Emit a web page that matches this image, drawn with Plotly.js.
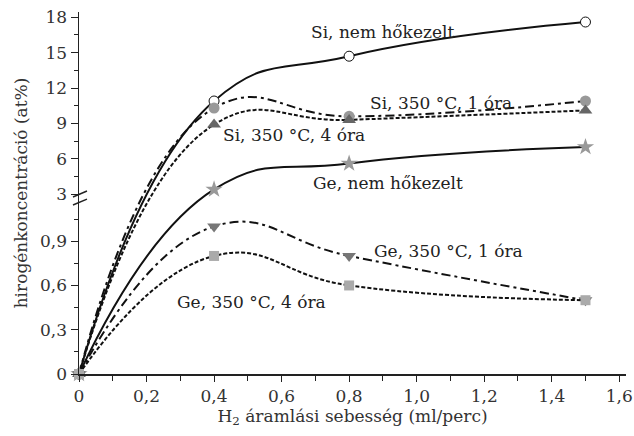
<!DOCTYPE html>
<html>
<head>
<meta charset="utf-8">
<script src="https://cdn.plot.ly/plotly-3.0.1.min.js"></script>
<style>html,body{margin:0;padding:0;background:#fff;}#chart{width:634px;height:436px;}</style>
</head>
<body>
<div id="chart"></div>
<script>
// ---- data ----
var flowRate = [0, 0.4, 0.8, 1.5];            // H2 áramlási sebesség (ml/perc)
var siNem    = [0, 10.9, 14.7, 17.6];         // Si, nem hőkezelt
var si1      = [0, 10.3, 9.6, 10.9];          // Si, 350 °C, 1 óra
var si4      = [0, 8.9, 9.3, 10.1];           // Si, 350 °C, 4 óra
var geNem    = [0, 3.4, 5.6, 7.0];            // Ge, nem hőkezelt
var ge1      = [0, 1.0, 0.8, 0.5];            // Ge, 350 °C, 1 óra
var ge4      = [0, 0.8, 0.6, 0.5];            // Ge, 350 °C, 4 óra

var xTickVals = [0, 0.2, 0.4, 0.6, 0.8, 1.0, 1.2, 1.4, 1.6];
var xTickText = ['0', '0,2', '0,4', '0,6', '0,8', '1,0', '1,2', '1,4', '1,6'];
var xMinor    = [0.1, 0.3, 0.5, 0.7, 0.9, 1.1, 1.3, 1.5];
var yTickVals = [0, 0.3, 0.6, 0.9, 3, 6, 9, 12, 15, 18];
var yTickText = ['0', '0,3', '0,6', '0,9', '3', '6', '9', '12', '15', '18'];
var yMinor    = [0.15, 0.45, 0.75, 1.05, 4.5, 7.5, 10.5, 13.5, 16.5];

// ---- broken y axis: lower segment 0..~1.15 (linear), upper segment 3..18 (compressed) ----
var UPPER_START = 3, UPPER_OFFSET = 1.2187, UPPER_SCALE = 11.8 / 147.7;
function ty(v) { return v <= 1.2 ? v : UPPER_OFFSET + UPPER_SCALE * (v - UPPER_START); }
function tyArr(a) { return a.map(ty); }

var FONT = 'DejaVu Serif, serif';
var FS = 17;

function trace(y, dash, width, symbol, color, lineColor, size) {
  return {
    x: flowRate, y: tyArr(y), type: 'scatter', mode: 'lines+markers',
    line: {shape: 'spline', smoothing: 1.3, color: '#111', width: width, dash: dash},
    marker: {symbol: symbol, size: size, color: color, line: {color: lineColor || color, width: lineColor ? 1 : 0}},
    cliponaxis: false, hoverinfo: 'skip'
  };
}

var traces = [
  trace(siNem, 'solid', 2, 'circle', '#ffffff', '#111', 10),
  trace(si1, '9px,4px,3px,4px', 2, 'circle', '#999999', null, 11),
  trace(si4, '4px,2px', 2, 'triangle-up', '#666666', null, 12),
  trace(geNem, 'solid', 2, 'star', '#999999', null, 13),
  trace(ge1, '9px,4px,3px,4px', 2, 'triangle-down', '#777777', null, 12),
  trace(ge4, '4px,2px', 2, 'square', '#aaaaaa', null, 10)
];

var labels = [
  {t: 'Si, nem hőkezelt', x: 0.90, y: 16.73},
  {t: 'Si, 350 °C, 1 óra', x: 1.073, y: 10.75},
  {t: 'Si, 350 °C, 4 óra', x: 0.637, y: 8.0},
  {t: 'Ge, nem hőkezelt', x: 0.916, y: 3.93},
  {t: 'Ge, 350 °C, 1 óra', x: 1.093, y: 0.835},
  {t: 'Ge, 350 °C, 4 óra', x: 0.51, y: 0.4875}
];
var annotations = labels.map(function (l) {
  return {text: l.t, x: l.x, y: ty(l.y), xref: 'x', yref: 'y', showarrow: false,
          font: {family: FONT, size: FS, color: '#222'}, xanchor: 'center', yanchor: 'middle'};
});

// break marks on the y axis
var shapes = [
  {type: 'line', xref: 'paper', yref: 'paper', x0: -0.011, x1: 0.0146, y0: 0.489, y1: 0.5055, line: {color: '#222', width: 1.5}},
  {type: 'line', xref: 'paper', yref: 'paper', x0: -0.011, x1: 0.0146, y0: 0.467, y1: 0.483, line: {color: '#222', width: 1.5}}
];

var layout = {
  width: 634, height: 436,
  margin: {l: 79, r: 8, t: 12, b: 62},
  paper_bgcolor: '#fff', plot_bgcolor: '#fff',
  showlegend: false,
  font: {family: FONT, size: FS, color: '#222'},
  xaxis: {
    range: [0, 1.62], tickmode: 'array', tickvals: xTickVals, ticktext: xTickText,
    ticks: 'outside', ticklen: 6, tickwidth: 1, tickcolor: '#222',
    minor: {tickmode: 'array', tickvals: xMinor, ticks: 'outside', ticklen: 5, tickcolor: '#222'},
    showline: true, linecolor: '#222', linewidth: 1.5, showgrid: false, zeroline: false,
    tickfont: {family: FONT, size: FS, color: '#333'},
    title: {text: 'H<sub>2</sub> áramlási sebesség (ml/perc)', font: {family: FONT, size: FS, color: '#333'}, standoff: 3}
  },
  yaxis: {
    range: [0, ty(18.45)], tickmode: 'array', tickvals: tyArr(yTickVals), ticktext: yTickText,
    ticks: 'outside', ticklen: 7, tickwidth: 1, tickcolor: '#222',
    minor: {tickmode: 'array', tickvals: tyArr(yMinor), ticks: 'outside', ticklen: 4, tickcolor: '#222'},
    showline: true, linecolor: '#222', linewidth: 1.5, showgrid: false, zeroline: false,
    tickfont: {family: FONT, size: FS, color: '#333'},
    title: {text: 'hirogénkoncentráció (at%)', font: {family: FONT, size: FS, color: '#333'}, standoff: 8}
  },
  annotations: annotations,
  shapes: shapes
};

Plotly.newPlot('chart', traces, layout, {staticPlot: true, displayModeBar: false});
</script>
</body>
</html>
